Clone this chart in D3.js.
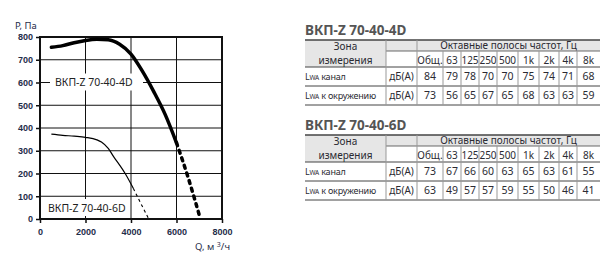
<!DOCTYPE html>
<html>
<head>
<meta charset="utf-8">
<script src="https://cdn.jsdelivr.net/npm/d3@7"></script>
<style>
  body { margin: 0; background: #fff; }
  svg { display: block; font-family: "Noto Sans", sans-serif; }
</style>
</head>
<body>
<div id="chart"></div>
<script>
// chart data
var flowTicks = [0, 2000, 4000, 6000, 8000];
var pressureTicks = [0, 100, 200, 300, 400, 500, 600, 700, 800];

// ВКП-Z 70-40-4D: [Q, P]
var curve4D = [[500,755],[1000,762],[1500,775],[2000,785],[2500,790],[3000,788],[3500,768],[4000,725],[4500,650],[5000,560],[5500,460],[6000,335]];
var curve4DExt = [[6000,335],[6500,186],[7050,0]];
// ВКП-Z 70-40-6D
var curve6D = [[500,373],[1000,368],[1500,364],[2000,359],[2500,348],[2700,338],[3000,310],[3250,272],[3500,237],[3750,199],[4100,135]];
var curve6DExt = [[4100,135],[4450,65],[4780,0]];

// table data
var bands = ["Общ.", "63", "125", "250", "500", "1k", "2k", "4k", "8k"];
var zones = ["канал", "к окружению"];
var lwa4D = [[84,79,78,70,70,75,74,71,68],[73,56,65,67,65,68,63,63,59]];
var lwa6D = [[73,67,66,60,63,65,63,61,55],[63,49,57,57,59,55,50,46,41]];

var svg = d3.select("#chart").append("svg")
  .attr("width", 607).attr("height", 275);

//---- chart part
var x = d3.scaleLinear().domain([0, 8000]).range([40, 222]);
var y = d3.scaleLinear().domain([0, 800]).range([219, 37]);
var tickColor = "#1f2d4a";

var g = svg.append("g");

// grid
g.selectAll(".vgrid").data(flowTicks.slice(1, -1)).enter().append("line")
  .attr("x1", d => x(d)).attr("x2", d => x(d))
  .attr("y1", y(800)).attr("y2", y(0))
  .attr("stroke", "#111").attr("stroke-width", 1);
g.selectAll(".hgrid").data(pressureTicks.slice(1, -1)).enter().append("line")
  .attr("x1", x(0)).attr("x2", x(8000))
  .attr("y1", d => y(d)).attr("y2", d => y(d))
  .attr("stroke", "#111").attr("stroke-width", 1);

// axes
var xAxis = g.append("g").attr("transform", "translate(0," + y(0) + ")")
  .call(d3.axisBottom(x).tickValues(flowTicks).tickSize(4).tickFormat(d3.format("d")));
var yAxis = g.append("g").attr("transform", "translate(" + x(0) + ",0)")
  .call(d3.axisLeft(y).tickValues(pressureTicks).tickSize(4).tickFormat(d3.format("d")));
[xAxis, yAxis].forEach(function(a){
  a.select(".domain").remove();
  a.selectAll("line").attr("stroke", "#111").attr("stroke-width", 1.5);
  a.selectAll("text").attr("fill", tickColor).style("font-size", "9px").style("font-weight", "bold");
});
xAxis.selectAll("text").attr("dy", "0.71em").attr("y", 10);
yAxis.selectAll("text").attr("x", -7);

// frame
g.append("rect")
  .attr("x", x(0)).attr("y", y(800))
  .attr("width", x(8000) - x(0)).attr("height", y(0) - y(800))
  .attr("fill", "none").attr("stroke", "#111").attr("stroke-width", 2);

// curve labels with white backing
function curveLabel(txt, tx, ty, bx, bw) {
  g.append("rect").attr("x", bx).attr("y", ty - 9).attr("width", bw).attr("height", 17).attr("fill", "#fff");
  g.append("text").attr("x", tx).attr("y", ty).attr("dy", "0.35em")
    .attr("fill", "#222").style("font-size", "10.5px").text(txt);
}
curveLabel("ВКП-Z 70-40-4D", 55, y(600), 50, 93);
curveLabel("ВКП-Z 70-40-6D", 48, 208, 44, 85);

var line = d3.line().curve(d3.curveMonotoneX)
  .x(function(d){ return x(d[0]); })
  .y(function(d){ return y(d[1]); });

g.append("path").attr("d", line(curve4D))
  .attr("fill", "none").attr("stroke", "#000").attr("stroke-width", 3.5).attr("stroke-linecap", "round");
g.append("path").attr("d", line(curve4DExt))
  .attr("fill", "none").attr("stroke", "#000").attr("stroke-width", 3.5)
  .attr("stroke-linecap", "round").attr("stroke-dasharray", "3,5");
g.append("path").attr("d", line(curve6D))
  .attr("fill", "none").attr("stroke", "#000").attr("stroke-width", 1.2);
g.append("path").attr("d", line(curve6DExt))
  .attr("fill", "none").attr("stroke", "#000").attr("stroke-width", 1.1).attr("stroke-dasharray", "3,3");

// axis titles
svg.append("text").attr("x", 15).attr("y", 29).attr("fill", tickColor)
  .style("font-size", "9.5px").text("P, Па");
var qt = svg.append("text").attr("x", 195).attr("y", 250).attr("fill", tickColor).style("font-size", "9.5px");
qt.append("tspan").text("Q, м ");
qt.append("tspan").attr("dy", -3).style("font-size", "7px").text("3");
qt.append("tspan").attr("dy", 3).text("/ч");

//---- tables
var colEdges = [305, 386, 417, 443, 461, 479, 497, 518, 539, 559, 577, 600];
var textColor = "#2b2b33";
var headFill = "#e6e6e6";

function drawTable(title, vals, top) {
  var t = svg.append("g");
  var r0 = top, r1 = top + 11, r2 = top + 27, r3 = top + 46, r4 = top + 65;
  var L = colEdges[0], R = colEdges[colEdges.length - 1];

  t.append("text").attr("x", L).attr("y", top - 5)
    .attr("fill", "#555").style("font-size", "13.5px").style("font-weight", "bold").text(title);

  // header backgrounds
  t.append("rect").attr("x", L).attr("y", r0).attr("width", colEdges[1] - L).attr("height", r2 - r0).attr("fill", headFill);
  t.append("rect").attr("x", colEdges[1]).attr("y", r0).attr("width", R - colEdges[1]).attr("height", r1 - r0).attr("fill", headFill);

  // horizontal rules
  [[r0, L, 1.5], [r1, colEdges[1], 0.8], [r2, L, 1], [r3, L, 1], [r4, L, 1]].forEach(function(h){
    t.append("line").attr("x1", h[1]).attr("x2", R).attr("y1", h[0]).attr("y2", h[0])
      .attr("stroke", "#444").attr("stroke-width", h[2]);
  });
  // vertical rules
  colEdges.slice(1, -1).forEach(function(cx, i){
    var yTop = i < 2 ? r0 : r1;
    t.append("line").attr("x1", cx).attr("x2", cx).attr("y1", yTop).attr("y2", r4)
      .attr("stroke", "#999").attr("stroke-width", 1);
  });

  var fs = "10px";
  // header text
  var labMid = (L + colEdges[1]) / 2;
  t.append("text").attr("x", labMid).attr("y", r0 + 6).attr("dy", "0.35em").attr("text-anchor", "middle")
    .attr("fill", textColor).style("font-size", fs).text("Зона");
  t.append("text").attr("x", labMid).attr("y", (r1 + r2) / 2 + 1).attr("dy", "0.35em").attr("text-anchor", "middle")
    .attr("fill", textColor).style("font-size", fs).text("измерения");
  t.append("text").attr("x", (colEdges[2] + R) / 2).attr("y", (r0 + r1) / 2).attr("dy", "0.35em").attr("text-anchor", "middle")
    .attr("fill", textColor).style("font-size", fs).text("Октавные полосы частот, Гц");
  t.selectAll(".band").data(bands).enter().append("text")
    .attr("x", function(d, i){ return (colEdges[i + 2] + colEdges[i + 3]) / 2; })
    .attr("y", (r1 + r2) / 2 + 1).attr("dy", "0.35em").attr("text-anchor", "middle")
    .attr("fill", textColor).style("font-size", fs).text(function(d){ return d; });

  // data rows
  var rowMid = [(r2 + r3) / 2, (r3 + r4) / 2];
  vals.forEach(function(row, ri){
    var lt = t.append("text").attr("x", L).attr("y", rowMid[ri]).attr("dy", "0.35em")
      .attr("fill", textColor).style("font-size", "9px").attr("letter-spacing", "-0.2");
    lt.append("tspan").text("L");
    lt.append("tspan").style("font-size", "6.5px").text("WA");
    lt.append("tspan").text(" " + zones[ri]);
    t.append("text").attr("x", (colEdges[1] + colEdges[2]) / 2).attr("y", rowMid[ri]).attr("dy", "0.35em")
      .attr("text-anchor", "middle").attr("fill", textColor).style("font-size", fs).text("дБ(А)");
    t.selectAll(".v" + ri).data(row).enter().append("text")
      .attr("x", function(d, i){ return (colEdges[i + 2] + colEdges[i + 3]) / 2; })
      .attr("y", rowMid[ri]).attr("dy", "0.35em").attr("text-anchor", "middle")
      .attr("fill", textColor).style("font-size", "10.5px").text(function(d){ return d; });
  });
}

drawTable("ВКП-Z 70-40-4D", lwa4D, 40);
drawTable("ВКП-Z 70-40-6D", lwa6D, 135);
</script>
</body>
</html>
